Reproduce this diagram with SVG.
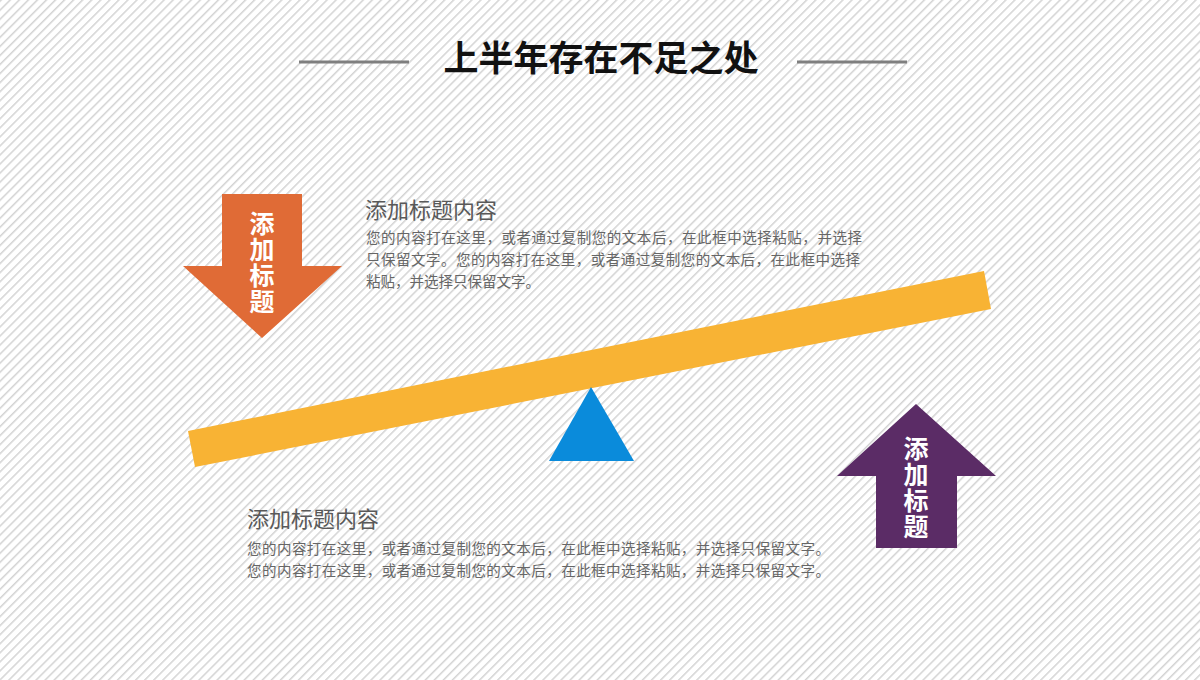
<svg xmlns="http://www.w3.org/2000/svg" width="1200" height="680" viewBox="0 0 1200 680">
<defs>
<pattern id="stripes" patternUnits="userSpaceOnUse" width="6.4" height="10" patternTransform="rotate(45)">
<line x1="0.8" y1="0" x2="0.8" y2="10" stroke="#c8c8c8" stroke-width="1.2"/>
</pattern>
<style>
.cjk{font-family:"Noto Sans CJK SC","Noto Sans",sans-serif}
.title{font-size:35px;font-weight:bold;fill:#111}
.rule{stroke:#7f7f7f;stroke-width:3}
.arrowtxt{font-size:25px;font-weight:bold;fill:#fff;writing-mode:tb;letter-spacing:1px}
.head{font-size:22px;fill:#595959}
.body{font-size:14.5px;fill:#666}
</style>
</defs>
<rect width="1200" height="680" fill="#fff"/>
<rect width="1200" height="680" fill="url(#stripes)"/>
<g id="title">
<line class="rule" x1="299" y1="62" x2="409" y2="62"/>
<line class="rule" x1="797" y1="62" x2="907" y2="62"/>
<text class="cjk title" x="601" y="71" text-anchor="middle">上半年存在不足之处</text>
</g>
<g id="seesaw">
<polygon points="188,431 984,271 991,309 195,467" fill="#F8B334"/>
<polygon points="591,387 634,461 549,461" fill="#0A8BDB"/>
</g>
<g id="arrow-down">
<polygon points="222,194 302,194 302,266 342,266 262,338 183,266 222,266" fill="#E06B36"/>
<text class="cjk arrowtxt" x="262" y="211">添加标题</text>
</g>
<g id="arrow-up">
<polygon points="916,404 996,476 957,476 957,548 876,548 876,476 837,476" fill="#5B2C66"/>
<text class="cjk arrowtxt" x="916" y="436">添加标题</text>
</g>
<g id="text-top">
<text class="cjk head" x="365" y="218">添加标题内容</text>
<text class="cjk body" x="366" y="243" textLength="496" lengthAdjust="spacing">您的内容打在这里，或者通过复制您的文本后，在此框中选择粘贴，并选择</text>
<text class="cjk body" x="366" y="265" textLength="494" lengthAdjust="spacing">只保留文字。您的内容打在这里，或者通过复制您的文本后，在此框中选择</text>
<text class="cjk body" x="366" y="287">粘贴，并选择只保留文字。</text>
</g>
<g id="text-bottom">
<text class="cjk head" x="247" y="527">添加标题内容</text>
<text class="cjk body" x="247" y="554" textLength="583" lengthAdjust="spacing">您的内容打在这里，或者通过复制您的文本后，在此框中选择粘贴，并选择只保留文字。</text>
<text class="cjk body" x="247" y="576" textLength="583" lengthAdjust="spacing">您的内容打在这里，或者通过复制您的文本后，在此框中选择粘贴，并选择只保留文字。</text>
</g>
</svg>
